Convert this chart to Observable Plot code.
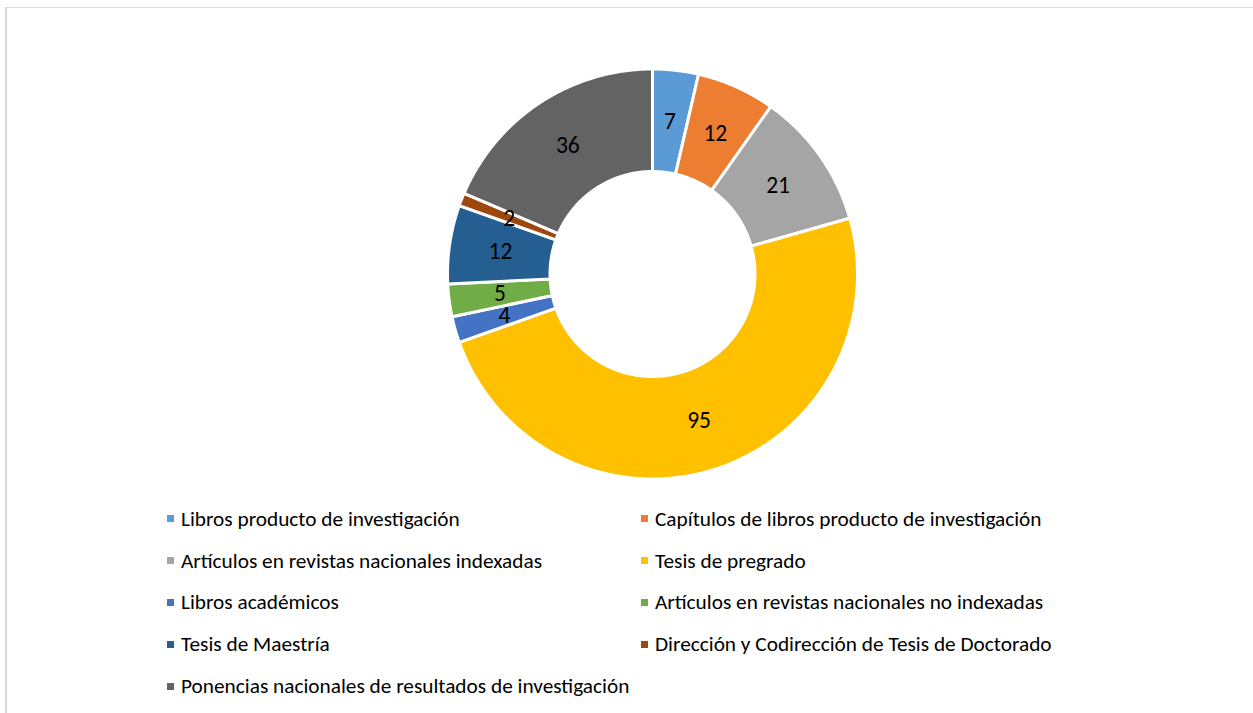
<!DOCTYPE html>
<html>
<head>
<meta charset="utf-8">
<script src="https://cdn.jsdelivr.net/npm/d3@7"></script>
<script src="https://cdn.jsdelivr.net/npm/@observablehq/plot@0.6"></script>
<style>
  html, body { margin: 0; padding: 0; background: #fff; }
  #frame {
    position: relative; width: 1253px; height: 713px; overflow: hidden;
    font-family: Calibri, Carlito, Lato, sans-serif;
  }
  #border {
    position: absolute; left: 5px; top: 7px; width: 1300px; height: 800px;
    border-left: 2px solid #d9d9d9; border-top: 1px solid #d9d9d9;
  }
  #chart { position: absolute; left: 0; top: 0; }
  #legend {
    position: absolute; left: 167px; top: 498px;
    display: grid; grid-template-columns: 474px 560px; grid-auto-rows: 41.8px;
    font-size: 21.3px; color: #000; white-space: nowrap;
  }
  .item { display: flex; align-items: center; height: 41.8px; }
  .sw { width: 7px; height: 7px; margin-right: 7px; flex: none; }
</style>
</head>
<body>
<div id="frame">
  <div id="border"></div>
  <div id="chart"></div>
  <div id="legend"></div>
</div>
<script>
const categories = [
  "Libros producto de investigación",
  "Capítulos de libros producto de investigación",
  "Artículos en revistas nacionales indexadas",
  "Tesis de pregrado",
  "Libros académicos",
  "Artículos en revistas nacionales no indexadas",
  "Tesis de Maestría",
  "Dirección y Codirección de Tesis de Doctorado",
  "Ponencias nacionales de resultados de investigación"
];
const values = [7, 12, 21, 95, 4, 5, 12, 2, 36];
const colors = ["#5B9BD5", "#ED7D31", "#A5A5A5", "#FFC000", "#4472C4", "#70AD47", "#255E91", "#9E480E", "#636363"];

const innerRatio = 0.5;
const labelRadius = 0.75;

const pie = d3.pie().sort(null).value(d => d.value).startAngle(0).endAngle(2 * Math.PI);
const arcs = pie(categories.map((c, i) => ({category: c, value: values[i]})));

// Build polygon vertices for each donut slice (angles clockwise from 12 o'clock)
const ringPoints = [];
const labels = [];
for (const a of arcs) {
  const c = a.data.category;
  const n = Math.max(4, Math.ceil((a.endAngle - a.startAngle) / 0.01));
  for (let k = 0; k <= n; k++) {
    const t = a.startAngle + (a.endAngle - a.startAngle) * k / n;
    ringPoints.push({category: c, x: Math.sin(t), y: Math.cos(t)});
  }
  for (let k = n; k >= 0; k--) {
    const t = a.startAngle + (a.endAngle - a.startAngle) * k / n;
    ringPoints.push({category: c, x: innerRatio * Math.sin(t), y: innerRatio * Math.cos(t)});
  }
  const m = (a.startAngle + a.endAngle) / 2;
  labels.push({x: labelRadius * Math.sin(m), y: labelRadius * Math.cos(m), text: String(a.data.value)});
}

const cx = 652, cy = 273.5, R = 205;
const chart = Plot.plot({
  width: 1253,
  height: 500,
  margin: 0,
  style: {fontFamily: "Calibri, Carlito, Lato, sans-serif", background: "transparent"},
  x: {domain: [-1, 1], range: [cx - R, cx + R], axis: null},
  y: {domain: [-1, 1], range: [cy + R, cy - R], axis: null},
  color: {type: "ordinal", domain: categories, range: colors},
  marks: [
    Plot.line(ringPoints, {
      x: "x", y: "y", z: "category", fill: "category",
      stroke: "white", strokeWidth: 3, curve: "linear-closed"
    }),
    Plot.text(labels, {
      x: "x", y: "y", text: "text", fill: "black", fontSize: 23.5
    })
  ]
});
document.getElementById("chart").appendChild(chart);

const legend = document.getElementById("legend");
categories.forEach((c, i) => {
  const item = document.createElement("div");
  item.className = "item";
  const sw = document.createElement("span");
  sw.className = "sw";
  sw.style.background = colors[i];
  const tx = document.createElement("span");
  tx.textContent = c;
  item.appendChild(sw);
  item.appendChild(tx);
  legend.appendChild(item);
});
</script>
</body>
</html>
